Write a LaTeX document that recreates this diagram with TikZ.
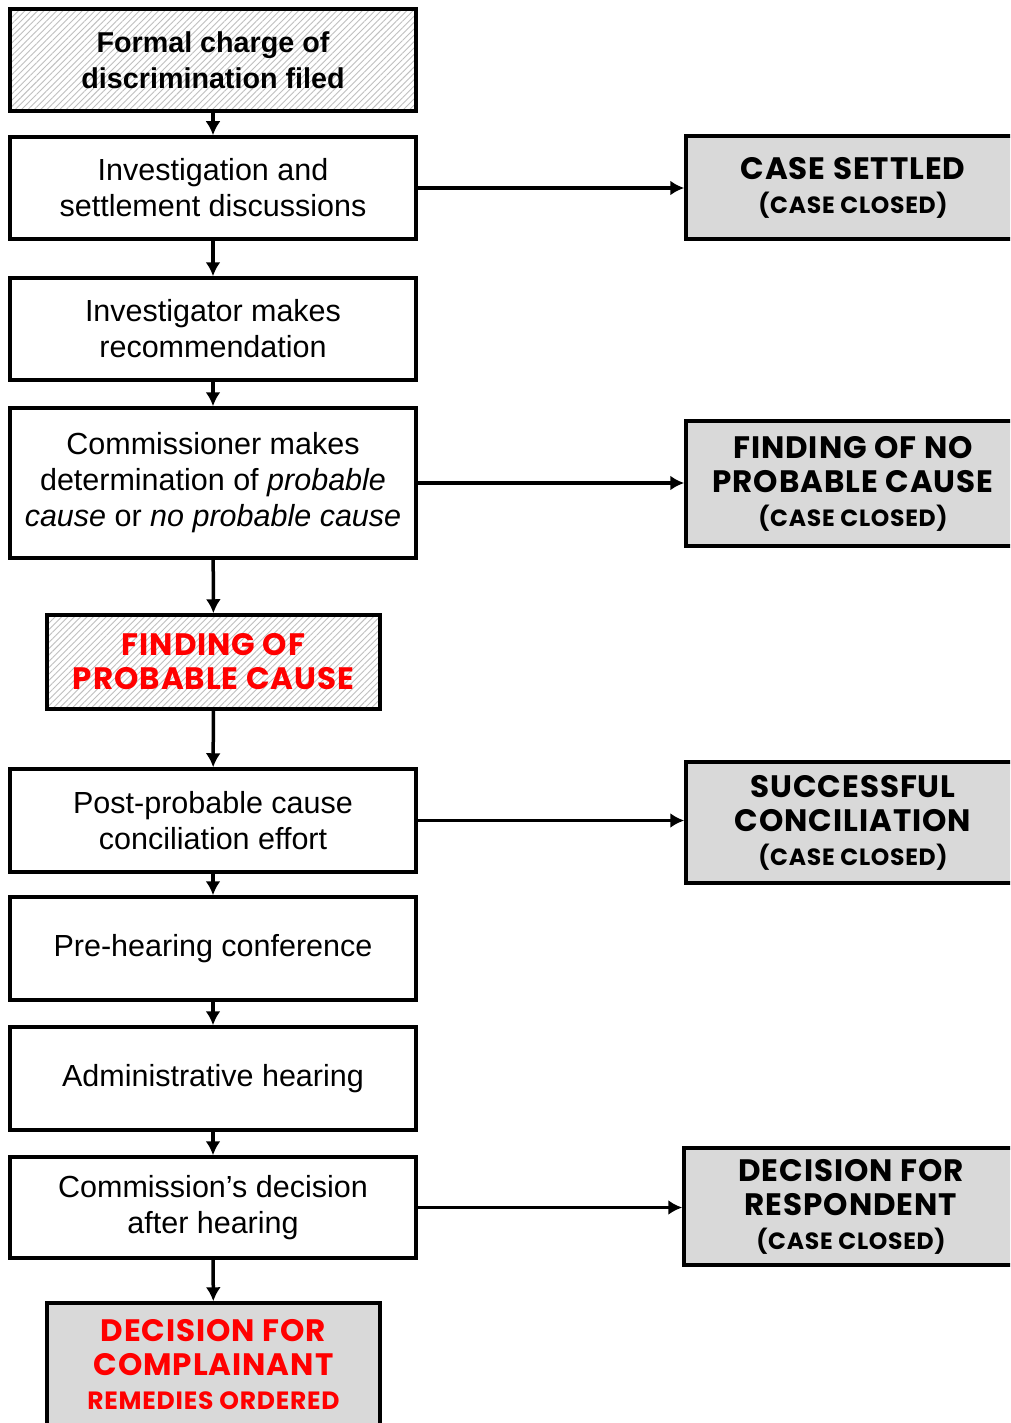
\documentclass[tikz,border=0pt]{standalone}
\usepackage{fontspec}
\setmainfont{Liberation Sans}
\newfontfamily\capsfont{Poppins}[LetterSpace=3]
\usetikzlibrary{arrows.meta, patterns.meta}

\newcommand{\closednote}[1]{{\fontsize{23.5}{27}\selectfont #1}}

\begin{document}
\begin{tikzpicture}[x = 1pt, y = -1pt, >= {Latex[length=14pt, width=15pt]},
    stepbox/.style = {draw, line width = 3.5pt, fill = white, minimum width = 406pt, minimum height = 102pt, align = center, inner sep = 2pt, font = \fontsize{30.5}{36}\selectfont},
    hatched/.style = {postaction = {pattern = {Lines[angle = 45, distance = 4.5pt, line width = 0.9pt]}, pattern color = black!25, draw = black, line width = 3.5pt}},
    outbox/.style = {draw, line width = 3.5pt, fill = black!15, minimum width = 334pt, align = center, inner sep = 2pt, font = \capsfont\bfseries\fontsize{31}{34}\selectfont},
    redbox/.style = {draw, line width = 3.5pt, minimum width = 333pt, align = center, inner sep = 2pt, text = red, font = \capsfont\bfseries\fontsize{31}{34}\selectfont},
    flow/.style = {->, line width = 3.5pt}]
  \path[use as bounding box, clip] (0,0) rectangle (1010,1423);

  \node[stepbox, hatched, font = \bfseries\fontsize{28.7}{36}\selectfont] (filed) at (213,60) {Formal charge of\\discrimination filed};
  \node[stepbox] (investigation) at (213,188) {Investigation and\\settlement discussions};
  \node[stepbox] (recommend) at (213,329) {Investigator makes\\recommendation};
  \node[stepbox, minimum height = 150pt] (determine) at (213,483) {Commissioner makes\\determination of \textit{probable}\\\textit{cause} or \textit{no probable cause}};
  \node[redbox, hatched, fill = white, minimum height = 94pt] (probable) at (213.5,662) {FINDING OF\\PROBABLE CAUSE};
  \node[stepbox, minimum height = 103pt] (conciliate) at (213,820.5) {Post-probable cause\\conciliation effort};
  \node[stepbox, minimum height = 103pt] (prehearing) at (213,948.5) {Pre-hearing conference};
  \node[stepbox, minimum height = 103pt] (hearing) at (213,1078.5) {Administrative hearing};
  \node[stepbox, minimum height = 101pt] (decision) at (213,1207.5) {Commission’s decision\\after hearing};
  \node[redbox, fill = black!15, minimum height = 124pt] (complainant) at (213.5,1365) {DECISION FOR\\COMPLAINANT\\{\fontsize{25}{27}\selectfont REMEDIES ORDERED}};

  \node[outbox, minimum height = 103pt] (settled) at (853,187.5) {CASE SETTLED\\\closednote{(CASE CLOSED)}};
  \node[outbox, minimum height = 125pt] (nocause) at (853,483.5) {FINDING OF NO\\PROBABLE CAUSE\\\closednote{(CASE CLOSED)}};
  \node[outbox, minimum height = 121pt] (success) at (853,822.5) {SUCCESSFUL\\CONCILIATION\\\closednote{(CASE CLOSED)}};
  \node[outbox, minimum height = 117pt] (respondent) at (851,1206.5) {DECISION FOR\\RESPONDENT\\\closednote{(CASE CLOSED)}};

  \draw[flow] (filed) -- (investigation);
  \draw[flow] (investigation) -- (recommend);
  \draw[flow] (recommend) -- (determine);
  \draw[flow] (determine) -- (probable);
  \draw[flow] (probable) -- (conciliate);
  \draw[flow] (conciliate) -- (prehearing);
  \draw[flow] (prehearing) -- (hearing);
  \draw[flow] (hearing) -- (decision);
  \draw[flow] (decision) -- (complainant);
  \draw[flow] (investigation.east) -- (investigation.east -| settled.west);
  \draw[flow] (determine.east) -- (determine.east -| nocause.west);
  \draw[flow] (conciliate.east) -- (conciliate.east -| success.west);
  \draw[flow] (decision.east) -- (decision.east -| respondent.west);
\end{tikzpicture}
\end{document}
